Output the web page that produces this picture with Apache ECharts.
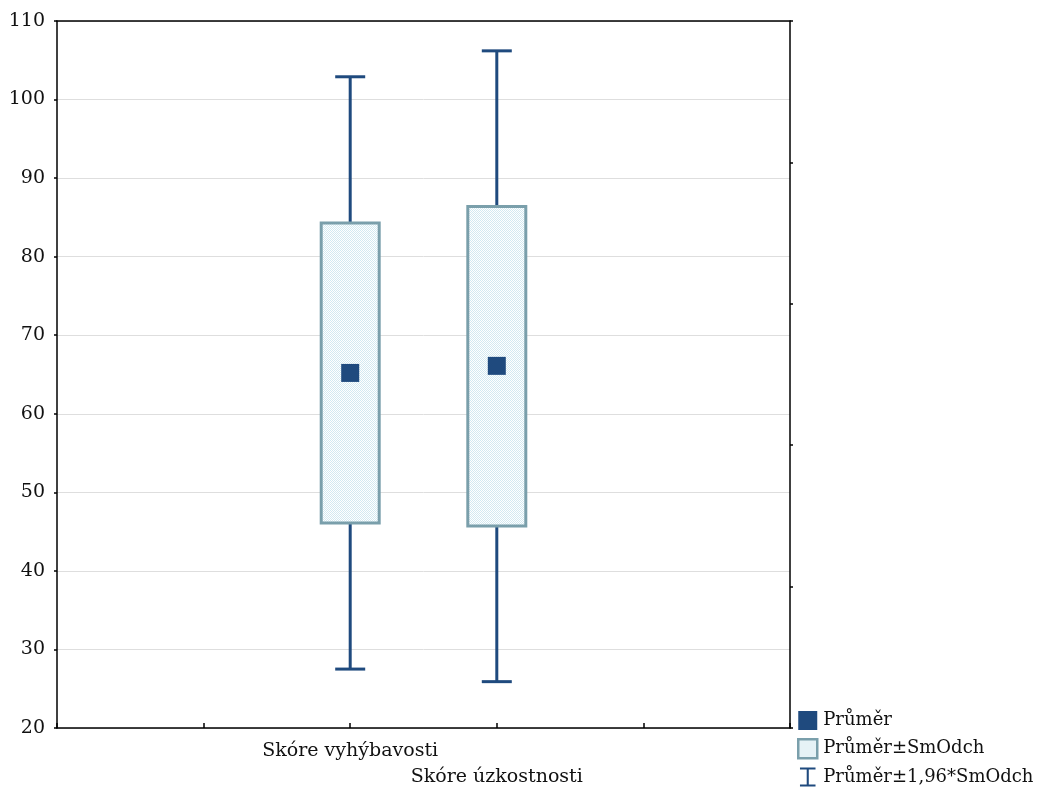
<!DOCTYPE html>
<html>
<head>
<meta charset="utf-8">
<script src="https://cdn.jsdelivr.net/npm/echarts@6/dist/echarts.min.js"></script>
<style>
  html, body { margin: 0; padding: 0; background: #fff; }
  #chart { width: 1043px; height: 789px; }
</style>
</head>
<body>
<div id="chart"></div>
<script>
// Score variables and their summary statistics
const categories = ['Skóre vyhýbavosti', 'Skóre úzkostnosti'];
const means   = [65.2, 66.1];
const sdLow   = [46.1, 45.7];
const sdHigh  = [84.3, 86.4];
const ciLow   = [27.5, 25.9];
const ciHigh  = [102.9, 106.2];
const yTicks  = [20, 30, 40, 50, 60, 70, 80, 90, 100, 110];

const legendNames = ['Průměr', 'Průměr±SmOdch', 'Průměr±1,96*SmOdch'];

const FONT = 'DejaVu Serif';
const NAVY = '#1f4a7e';
const BOX_EDGE = '#7a9fab';

// fine dotted fill used inside the boxes
function dotPattern() {
  const c = document.createElement('canvas');
  c.width = 2; c.height = 2;
  const g = c.getContext('2d');
  g.fillStyle = '#ffffff'; g.fillRect(0, 0, 2, 2);
  g.fillStyle = '#d3e9f1';
  g.fillRect(0, 0, 1, 1); g.fillRect(1, 1, 1, 1);
  return c;
}
const boxFill = { image: dotPattern(), repeat: 'repeat' };

// categories sit on slots 2 and 3 of a 0..5 horizontal scale
const slot = i => i + 2;

const meanData = means.map((m, i) => [slot(i), m]);
const boxData = means.map((m, i) => [slot(i), sdLow[i], sdHigh[i]]);
const whiskerData = means.map((m, i) => [slot(i), ciLow[i], ciHigh[i]]);

const chart = echarts.init(document.getElementById('chart'));
chart.setOption({
  animation: false,
  backgroundColor: '#fff',
  textStyle: { fontFamily: FONT },
  grid: { left: 57, right: 253, top: 21, bottom: 61 },
  xAxis: [{
    type: 'value', min: 0, max: 5, interval: 1, position: 'bottom',
    axisLine: { show: true, onZero: false, lineStyle: { color: '#000', width: 1.5 } },
    axisTick: { show: true, inside: true, length: 5, lineStyle: { color: '#000', width: 1.5 } },
    splitLine: { show: false },
    axisLabel: {
      margin: 14,
      fontFamily: FONT, fontSize: 19, color: '#111',
      formatter: v => {
        const i = v - 2;
        if (i === 0) return '{a|' + categories[0] + '}';
        if (i === 1) return '{b|' + categories[1] + '}';
        return '';
      },
      rich: {
        a: { fontFamily: FONT, fontSize: 19, color: '#111' },
        b: { fontFamily: FONT, fontSize: 19, color: '#111', padding: [26, 0, 0, 0] }
      }
    }
  }, {
    type: 'value', min: 0, max: 5, position: 'top',
    axisLine: { show: true, onZero: false, lineStyle: { color: '#000', width: 1.5 } },
    axisTick: { show: false }, axisLabel: { show: false }, splitLine: { show: false }
  }],
  yAxis: [{
    type: 'value', min: yTicks[0], max: yTicks[yTicks.length - 1], interval: 10,
    position: 'left',
    axisLine: { show: true, onZero: false, lineStyle: { color: '#000', width: 1.5 } },
    axisTick: { show: true, length: 3, lineStyle: { color: '#000', width: 1.5 } },
    splitLine: { show: true, lineStyle: { color: '#dedede', width: 1 } },
    axisLabel: { margin: 12, fontFamily: FONT, fontSize: 19, color: '#111' }
  }, {
    type: 'value', min: 0, max: 5, interval: 1, position: 'right',
    axisLine: { show: true, onZero: false, lineStyle: { color: '#000', width: 1.5 } },
    axisTick: { show: true, length: 3, lineStyle: { color: '#000', width: 1.5 } },
    axisLabel: { show: false }, splitLine: { show: false }
  }],
  legend: {
    orient: 'vertical', left: 797, top: 711, padding: 0,
    itemWidth: 19, itemHeight: 19, itemGap: 8,
    textStyle: { fontFamily: FONT, fontSize: 18, color: '#111', padding: [0, 0, 0, 1] },
    data: [
      { name: legendNames[0], icon: 'rect', itemStyle: { color: NAVY, opacity: 1 } },
      { name: legendNames[1], icon: 'rect',
        itemStyle: { color: '#e6f2f6', borderColor: BOX_EDGE, borderWidth: 2.5 } },
      { name: legendNames[2],
        icon: 'path://M0,0 L18,0 L18,2.2 L10.2,2.2 L10.2,19.8 L18,19.8 L18,22 L0,22 L0,19.8 L7.8,19.8 L7.8,2.2 L0,2.2 Z',
        itemStyle: { color: NAVY } }
    ]
  },
  series: [
    {
      name: legendNames[2], type: 'custom', z: 2,
      data: whiskerData,
      renderItem: (params, api) => {
        const x = api.value(0);
        const lo = api.coord([x, api.value(1)]);
        const hi = api.coord([x, api.value(2)]);
        const half = 15;
        const style = { stroke: NAVY, lineWidth: 3 };
        return {
          type: 'group',
          children: [
            { type: 'line', shape: { x1: lo[0], y1: lo[1], x2: hi[0], y2: hi[1] }, style },
            { type: 'line', shape: { x1: lo[0] - half, y1: lo[1], x2: lo[0] + half, y2: lo[1] }, style },
            { type: 'line', shape: { x1: hi[0] - half, y1: hi[1], x2: hi[0] + half, y2: hi[1] }, style }
          ]
        };
      }
    },
    {
      name: legendNames[1], type: 'custom', z: 3,
      data: boxData,
      renderItem: (params, api) => {
        const x = api.value(0);
        const lo = api.coord([x, api.value(1)]);
        const hi = api.coord([x, api.value(2)]);
        const w = 58;
        return {
          type: 'rect',
          shape: { x: lo[0] - w / 2, y: hi[1], width: w, height: lo[1] - hi[1] },
          style: { fill: boxFill, stroke: BOX_EDGE, lineWidth: 3 }
        };
      }
    },
    {
      name: legendNames[0], type: 'scatter', z: 4,
      symbol: 'rect', symbolSize: 18,
      itemStyle: { color: NAVY, opacity: 1 },
      data: meanData
    }
  ]
});
</script>
</body>
</html>
